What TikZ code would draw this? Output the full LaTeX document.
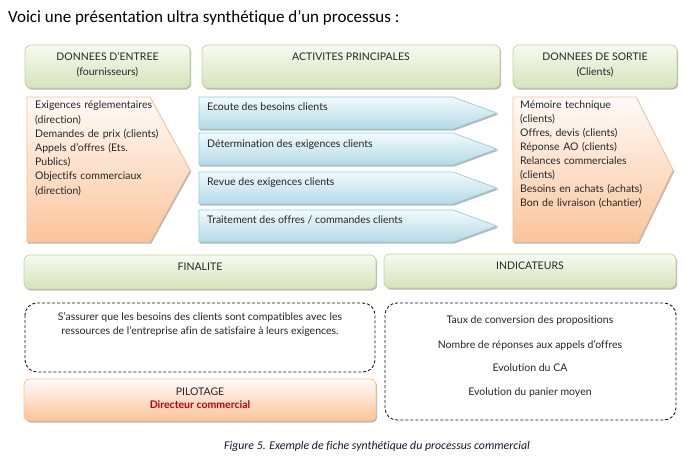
\documentclass[tikz,border=0pt]{standalone}
\usepackage{fontspec}
\setmainfont{Lato}[Ligatures=NoCommon]
\newfontfamily\calibri[Ligatures=NoCommon]{Carlito}
\usetikzlibrary{shadows}
\definecolor{grnB}{HTML}{C3D69B}
\definecolor{grnT}{HTML}{F7FAF1}
\definecolor{grnD}{HTML}{D5E3BA}
\definecolor{orB}{HTML}{FAC090}
\definecolor{orT}{HTML}{FFFBF8}
\definecolor{orD}{HTML}{FBC49A}
\definecolor{blB}{HTML}{93CDDD}
\definecolor{blT}{HTML}{F2FAFC}
\definecolor{blD}{HTML}{B3DAE6}
\definecolor{txt}{HTML}{262626}
\definecolor{redtxt}{HTML}{C00000}
\definecolor{capc}{HTML}{161630}
\tikzset{
  shad/.style={drop shadow={shadow xshift=1.2pt, shadow yshift=-1.6pt, fill=black!35, opacity=0.8}},
  hdrbox/.style={draw=grnB, line width=0.7pt, rounded corners=6pt, top color=grnT, bottom color=grnD, shad},
  orbox/.style={draw=orB, line width=0.7pt, shading angle=200, top color=orT, bottom color=orD, shad},
  orrbox/.style={draw=orB, line width=0.7pt, rounded corners=6pt, top color=orT, bottom color=orD, shad},
  blbox/.style={draw=blB, line width=0.7pt, top color=blT, bottom color=blD, shad},
  dbox/.style={draw=black!90, line width=0.9pt, dash pattern=on 3pt off 2pt, rounded corners=12pt},
  tx/.style={font=\fontsize{10.5}{14}\selectfont, text=txt, inner sep=0pt},
  lt/.style={tx, anchor=west, align=left},
}
\begin{document}
\begin{tikzpicture}[x=1pt,y=-1pt]
\useasboundingbox[fill=white] (0,0) rectangle (686,460);
\node[anchor=west, inner sep=0pt, font=\calibri\fontsize{17}{19}\selectfont] (title) at (8,18) {Voici une présentation ultra synthétique d’un processus :};
% headers
\path[hdrbox] (25,45) rectangle (190,88);
\path[hdrbox] (202,45) rectangle (500,88);
\path[hdrbox] (513,45) rectangle (677,88);
\node[tx] (hA1) at (107.5,57) {DONNEES D’ENTREE};
\node[tx] (hA2) at (107.5,72) {(fournisseurs)};
\node[tx] (hB1) at (351,57) {ACTIVITES PRINCIPALES};
\node[tx] (hC1) at (595,57) {DONNEES DE SORTIE};
\node[tx] (hC2) at (595,72) {(Clients)};
% left pentagon
\path[orbox] (27,97) -- (150,97) -- (190,170) -- (150,242) -- (27,242) -- cycle;
\node[lt, text width=150pt, font=\fontsize{10.5}{14.2}\selectfont, anchor=north west] (inp) at (35,101) {Exigences réglementaires\\(direction)\\Demandes de prix (clients)\\Appels d’offres (Ets.\\Publics)\\Objectifs commerciaux\\(direction)};
% right pentagon
\path[orbox] (513,97) -- (636,97) -- (673,170) -- (638,242) -- (513,242) -- cycle;
\node[lt, text width=150pt, font=\fontsize{10.5}{14.0}\selectfont, anchor=north west] (out) at (520,101) {Mémoire technique\\(clients)\\Offres, devis (clients)\\Réponse AO (clients)\\Relances commerciales\\(clients)\\Besoins en achats (achats)\\Bon de livraison (chantier)};
% blue arrows
\path[blbox] (199,97) -- (453,97) -- (497,113) -- (453,129) -- (199,129) -- cycle;
\path[blbox] (199,133) -- (453,133) -- (497,149) -- (453,165) -- (199,165) -- cycle;
\path[blbox] (199,172) -- (453,172) -- (497,188) -- (453,204) -- (199,204) -- cycle;
\path[blbox] (199,210) -- (453,210) -- (497,226) -- (453,242) -- (199,242) -- cycle;
\node[lt] (a1) at (207,107) {Ecoute des besoins clients};
\node[lt] (a2) at (207,145) {Détermination des exigences clients};
\node[lt] (a3) at (207,183) {Revue des exigences clients};
\node[lt] (a4) at (207,220) {Traitement des offres / commandes clients};
% finalite / indicateurs
\path[hdrbox] (24,255) rectangle (376,289);
\path[hdrbox] (384,254) rectangle (676,288);
\node[tx] (fin) at (200,267) {FINALITE};
\node[tx] (ind) at (530,266) {INDICATEURS};
% dashed boxes
\path[dbox] (25,303) rectangle (375,372);
\path[dbox] (385,303) rectangle (676,420);
\node[tx, align=center, font=\fontsize{10.5}{14}\selectfont, anchor=north] (finT) at (200,312) {S’assurer que les besoins des clients sont compatibles avec les\\ressources de l’entreprise afin de satisfaire à leurs exigences.};
\node[tx] (i1) at (530,321) {Taux de conversion des propositions};
\node[tx] (i2) at (530,345) {Nombre de réponses aux appels d’offres};
\node[tx] (i3) at (530,368) {Evolution du CA};
\node[tx] (i4) at (530,393) {Evolution du panier moyen};
% pilotage
\path[orrbox] (24,379) rectangle (376,421);
\node[tx] (pil) at (200,392) {PILOTAGE};
\node[tx, text=redtxt, font=\bfseries\fontsize{10.5}{14}\selectfont] (dir) at (200,405) {Directeur commercial};
% caption
\node[inner sep=0pt, text=capc, font=\calibri\itshape\fontsize{11.8}{14}\selectfont] (cap) at (377,446) {Figure 5. Exemple de fiche synthétique du processus commercial};
\end{tikzpicture}
\end{document}
